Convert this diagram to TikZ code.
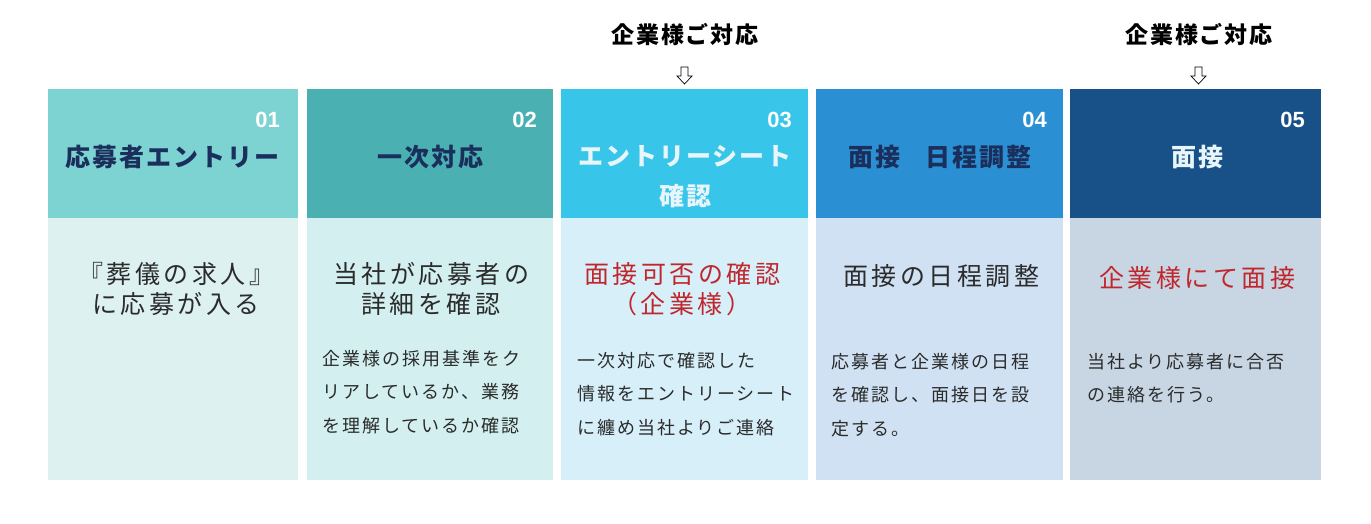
\documentclass[tikz,border=0pt]{standalone}
\usepackage{fontspec}
\setmainfont{Liberation Sans}
\newfontfamily\jp[LetterSpace=14]{Noto Sans CJK JP}
\newfontfamily\jpd[LetterSpace=11]{Noto Sans CJK JP}
\newfontfamily\jph[LetterSpace=8]{Noto Sans CJK JP}
\definecolor{h1}{HTML}{7DD3D1}
\definecolor{h2}{HTML}{4BB0B2}
\definecolor{h3}{HTML}{38C5EA}
\definecolor{h4}{HTML}{2A8FD3}
\definecolor{h5}{HTML}{175187}
\definecolor{b1}{HTML}{DDF1F1}
\definecolor{b2}{HTML}{D3EFEF}
\definecolor{b3}{HTML}{D6EFF9}
\definecolor{b4}{HTML}{CFE1F2}
\definecolor{b5}{HTML}{C8D5E3}
\definecolor{navy}{HTML}{1B2F5C}
\definecolor{pale}{HTML}{E8F6FB}
\definecolor{txt}{HTML}{2B2B2B}
\definecolor{redt}{HTML}{C0272D}
\tikzset{
  hdr/.style={rectangle, anchor=north west, minimum height=129pt, inner sep=0pt, draw=none},
  bdy/.style={rectangle, anchor=north west, minimum height=262pt, inner sep=0pt, draw=none},
  num/.style={anchor=east, inner sep=0pt, text=white, font=\fontsize{22}{22}\selectfont\bfseries},
  htitle/.style={inner sep=0pt, align=center, font=\jph\fontsize{25}{40}\selectfont\bfseries},
  btitle/.style={inner sep=0pt, align=center, font=\jp\fontsize{25}{29.5}\selectfont},
  detail/.style={anchor=west, inner sep=0pt, align=left, text=txt, font=\jpd\fontsize{18}{33.5}\selectfont},
  toplabel/.style={inner sep=0pt, text=black, font=\jph\fontsize{23}{23}\selectfont\bfseries},
  hollowarrow/.style={draw=black, fill=white, line width=0.7pt, line join=miter}
}
\begin{document}
\begin{tikzpicture}[x=1pt,y=-1pt]
\useasboundingbox (0,0) rectangle (1371,523);
\fill[white] (0,0) rectangle (1371,523);
% headers
\node[hdr, fill=h1, minimum width=250pt] (h1) at (48,89) {};
\node[hdr, fill=h2, minimum width=246pt] (h2) at (307,89) {};
\node[hdr, fill=h3, minimum width=247pt] (h3) at (561,89) {};
\node[hdr, fill=h4, minimum width=247pt] (h4) at (816,89) {};
\node[hdr, fill=h5, minimum width=251pt] (h5) at (1070,89) {};
% bodies
\node[bdy, fill=b1, minimum width=250pt] (b1) at (48,218) {};
\node[bdy, fill=b2, minimum width=246pt] (b2) at (307,218) {};
\node[bdy, fill=b3, minimum width=247pt] (b3) at (561,218) {};
\node[bdy, fill=b4, minimum width=247pt] (b4) at (816,218) {};
\node[bdy, fill=b5, minimum width=251pt] (b5) at (1070,218) {};
% numbers
\node[num] (n1) at (280,120) {01};
\node[num] (n2) at (537,120) {02};
\node[num] (n3) at (792,120) {03};
\node[num] (n4) at (1047,120) {04};
\node[num] (n5) at (1305,120) {05};
% header titles
\node[htitle, text=navy] (t1) at (172,157) {応募者エントリー};
\node[htitle, text=navy] (t2) at (430,157) {一次対応};
\node[htitle, text=pale] (t3) at (685,177) {エントリーシート\\確認};
\node[htitle, text=navy] (t4) at (940,157) {面接\hspace{1em}日程調整};
\node[htitle, text=pale] (t5) at (1197,157) {面接};
% top labels and arrows
\node[toplabel] (l3) at (685,35) {企業様ご対応};
\node[toplabel] (l5) at (1199,35) {企業様ご対応};
\draw[hollowarrow] (681,67) -- (681,76) -- (677,76) -- (684.5,84) -- (692,76) -- (688,76) -- (688,67) -- cycle;
\draw[hollowarrow] (1195,67) -- (1195,76) -- (1191,76) -- (1198.5,84) -- (1206,76) -- (1202,76) -- (1202,67) -- cycle;
% body titles
\node[btitle, text=txt] (bt1) at (176,289) {『葬儀の求人』\\に応募が入る};
\node[btitle, text=txt] (bt2) at (431,289) {当社が応募者の\\詳細を確認};
\node[btitle, text=redt] (bt3) at (682,289) {面接可否の確認\\（企業様）};
\node[btitle, text=txt] (bt4) at (941,276) {面接の日程調整};
\node[btitle, text=redt] (bt5) at (1197,278) {企業様にて面接};
% details
\node[detail] (d2) at (322,392) {企業様の採用基準をク\\リアしているか、業務\\を理解しているか確認};
\node[detail] (d3) at (577,394) {一次対応で確認した\\情報をエントリーシート\\に纏め当社よりご連絡};
\node[detail] (d4) at (831,395) {応募者と企業様の日程\\を確認し、面接日を設\\定する。};
\node[detail] (d5) at (1087,378) {当社より応募者に合否\\の連絡を行う。};
\end{tikzpicture}
\end{document}
